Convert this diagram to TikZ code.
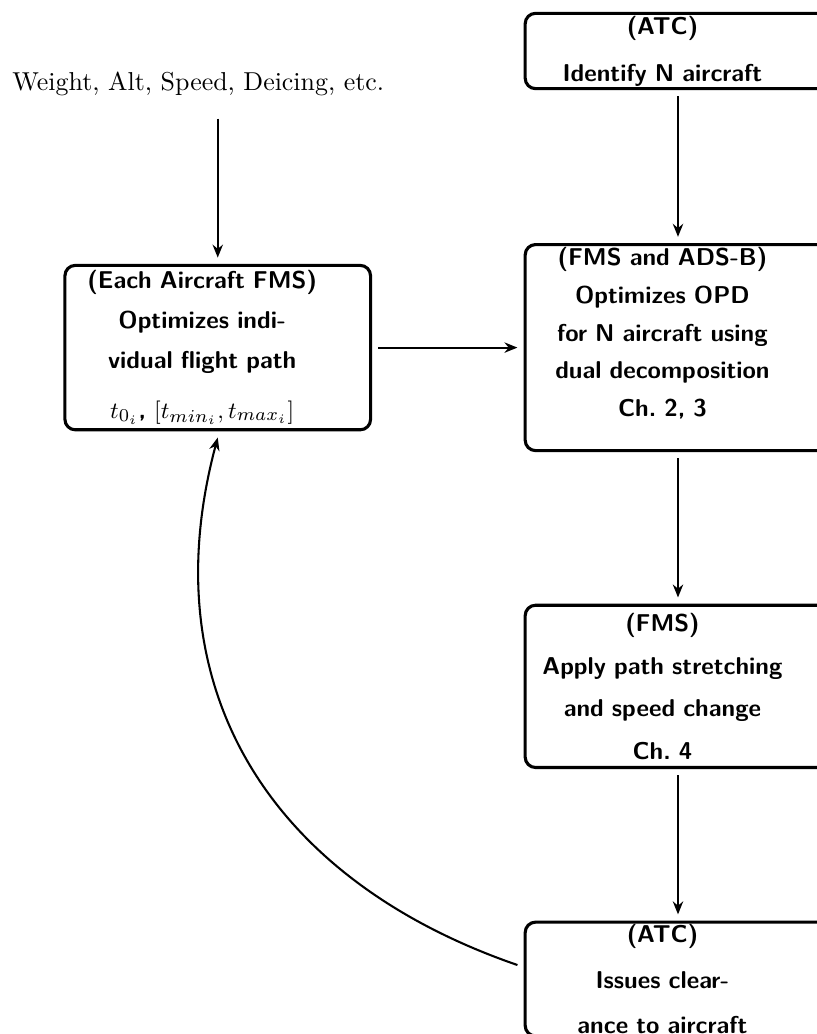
\documentclass[tikz,border=0pt]{standalone}
\usepackage{tikz}
\usetikzlibrary{arrows.meta, positioning}

\tikzset{
    stepbox/.style={draw, very thick, rounded corners=4pt, outer sep=3pt,
        font=\fontsize{9.4pt}{11pt}\selectfont\sffamily\bfseries, text width=110pt,
        inner xsep=4pt, inner ysep=1pt, align=center,
        execute at begin node={\baselineskip=#1\advance\rightskip by 12pt}},
    stepbox/.default=15pt,
    inputlabel/.style={outer sep=3pt, inner ysep=5.6pt, text width=170pt, align=center,
        execute at begin node={\advance\rightskip by 15pt}},
    flow/.style={-{Stealth[length=5pt, width=4pt]}, thick}
}

\begin{document}
\begin{tikzpicture}[x=0.3861pt, y=0.3861pt, node distance=53.7pt]
    \useasboundingbox (0,0) rectangle (817,1034);

    % ATC / FMS chain
    \node[stepbox=18.1pt] (identify) at (678,983) {(ATC)\\Identify N aircraft};
    \node[stepbox=14.6pt, text depth=70.5pt, below=54.2pt of identify] (opd) {(FMS and ADS-B)\\Optimizes OPD\\for N aircraft using\\dual decomposition\\Ch.~2, 3};
    \node[stepbox=16.5pt, inner ysep=3pt, below=of opd] (stretch) {(FMS)\\Apply path stretching\\and speed change\\Ch.~4};
    \node[stepbox=17.4pt, below=of stretch] (clearance) {(ATC)\\Issues clear-\\ance to aircraft};

    % Each aircraft
    \node[stepbox=15.3pt, inner ysep=2pt, left=of opd] (fms) {(Each Aircraft FMS)\\Optimizes indi-\\vidual flight path\\[4pt]$t_{0_i}$, $[t_{min_i}, t_{max_i}]$};
    \node[inputlabel, above=of fms] (inputs) {Weight, Alt, Speed, Deicing, etc.};

    % Arrows
    \draw[flow] (inputs) -- (fms);
    \draw[flow] (fms) -- (opd);
    \draw[flow] (identify) -- (opd);
    \draw[flow] (opd) -- (stretch);
    \draw[flow] (stretch) -- (clearance);
    \draw[flow] (clearance.175) to[out=161, in=-105, looseness=1.1] (fms.south);
\end{tikzpicture}
\end{document}
